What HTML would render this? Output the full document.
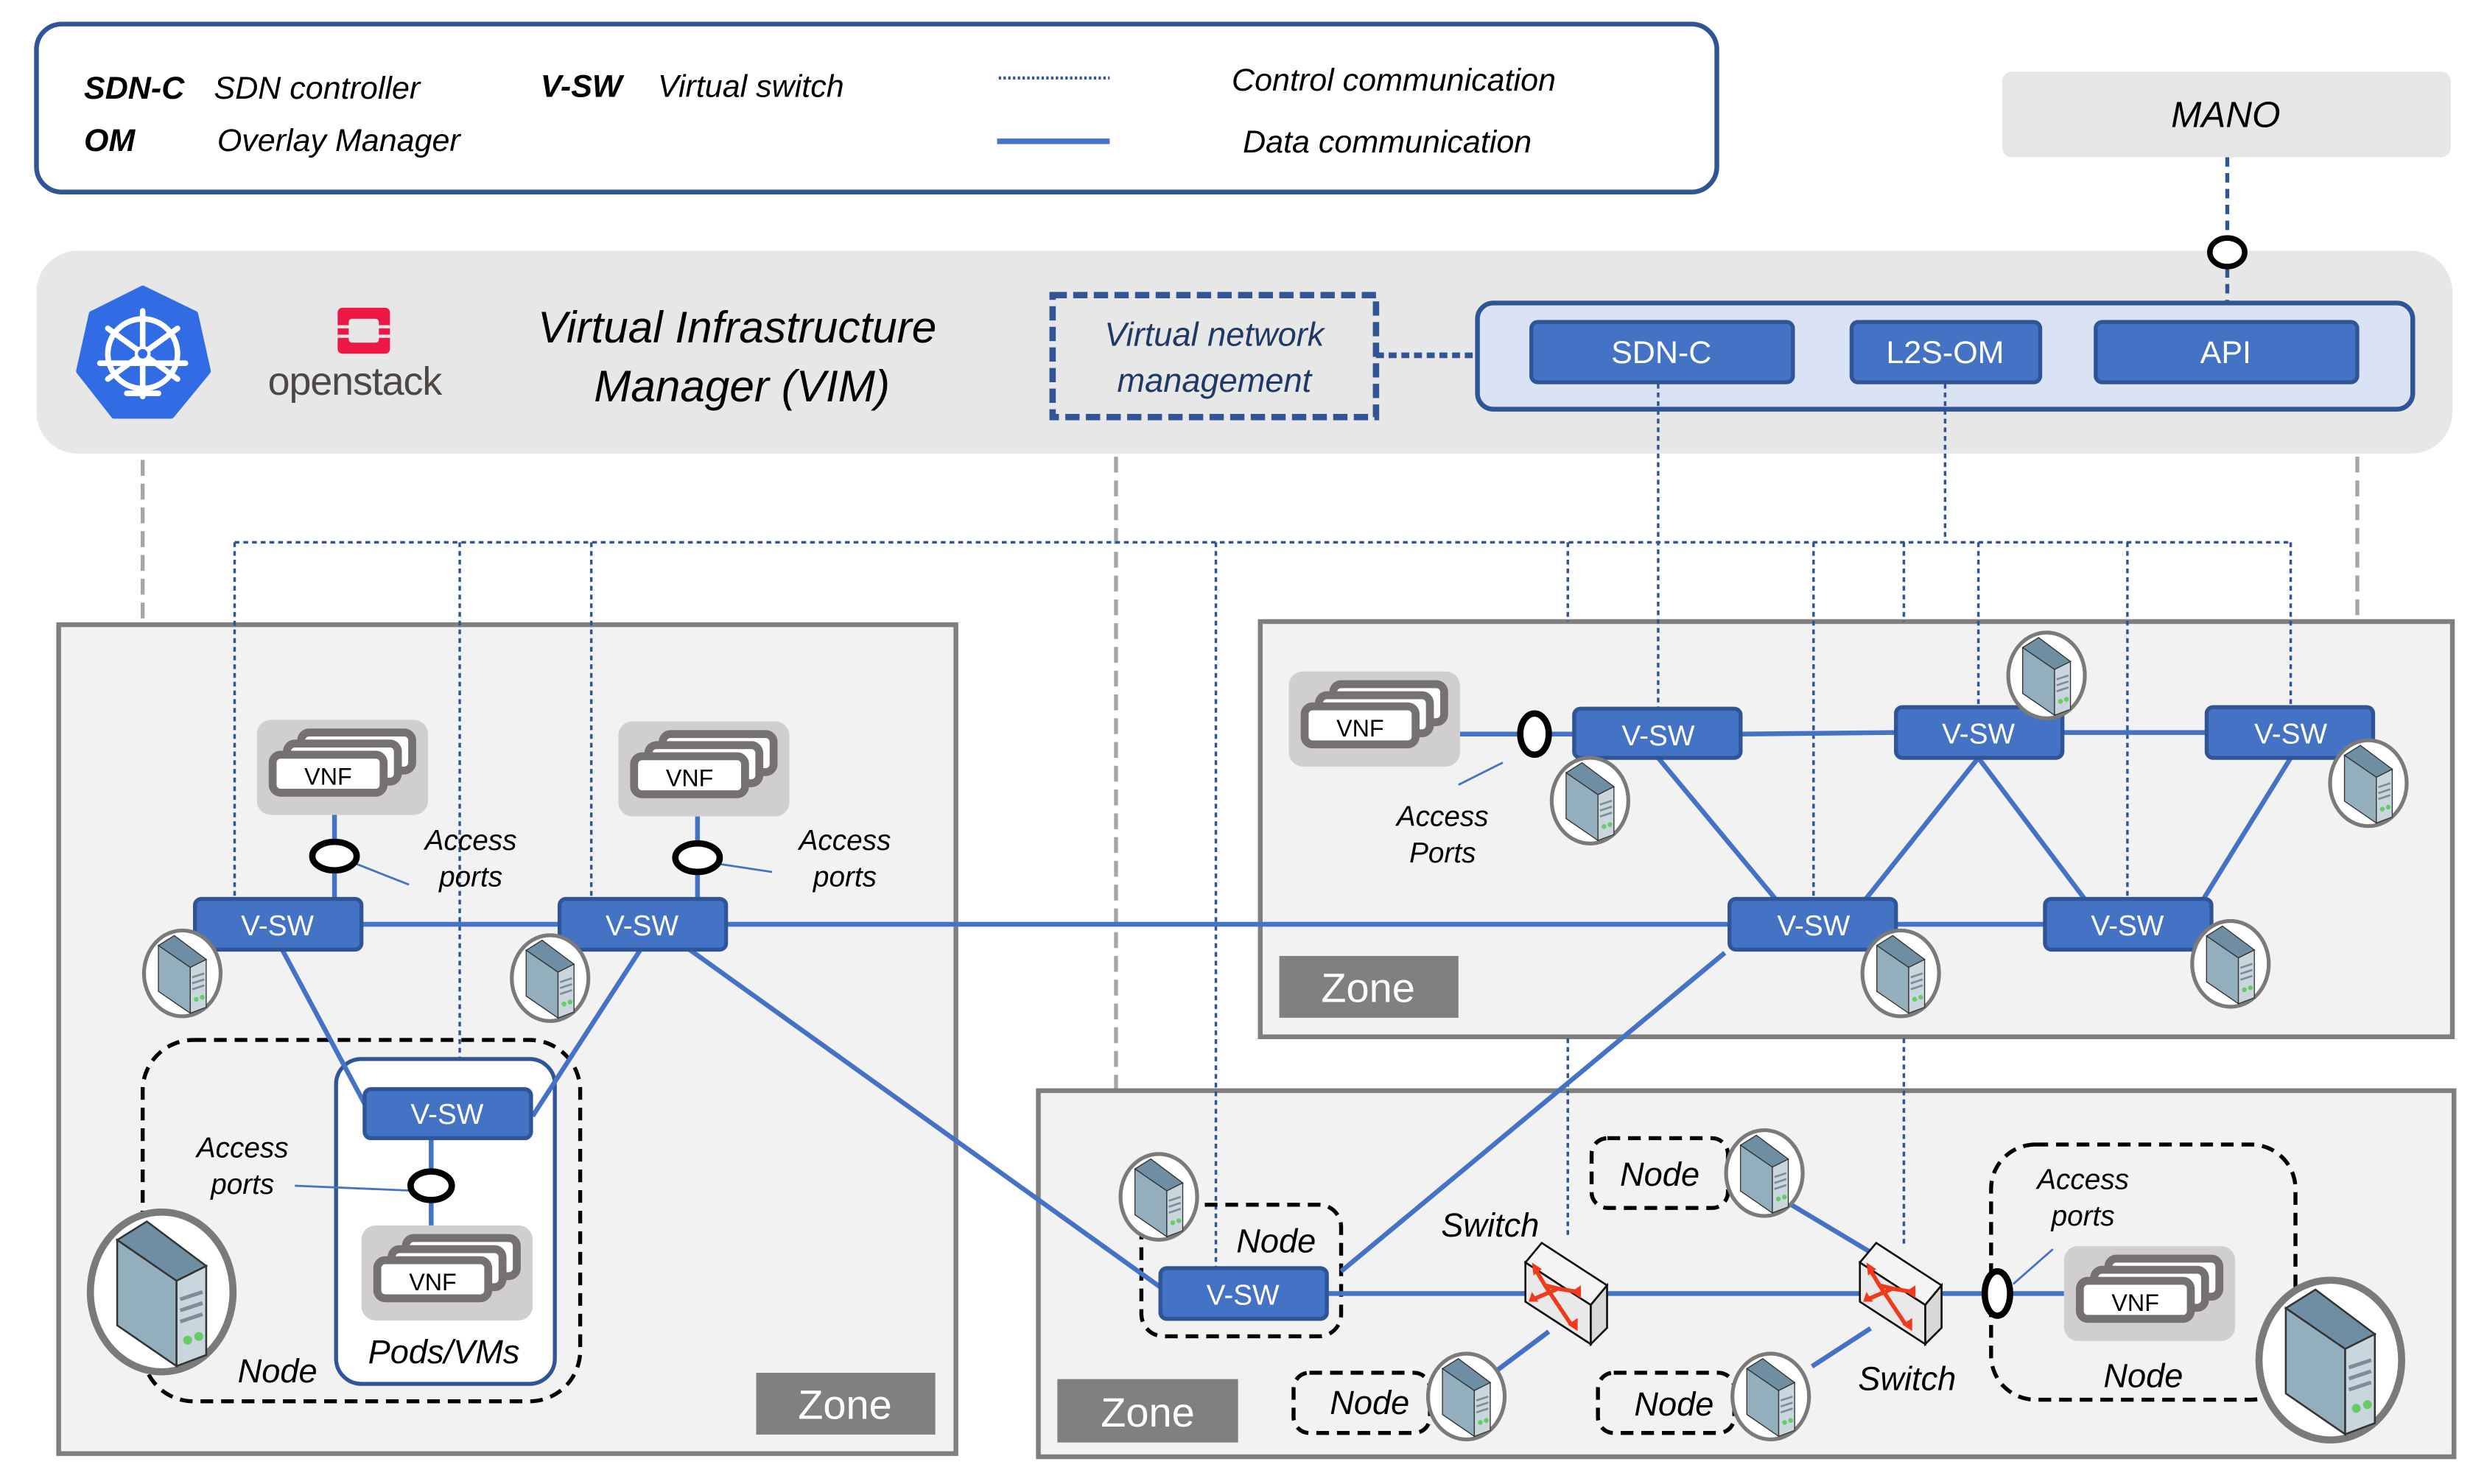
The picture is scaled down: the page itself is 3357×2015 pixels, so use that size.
<!DOCTYPE html>
<html><head><meta charset="utf-8"><style>
html,body{margin:0;padding:0;background:#fff;}
svg{display:block;}
text{font-family:"Liberation Sans",sans-serif;}
.it{font-style:italic;}
</style></head><body>
<svg width="3357" height="2015" viewBox="0 0 1560 936" xmlns="http://www.w3.org/2000/svg">
<defs>
<symbol id="srv" viewBox="-30 -30 60 60">
<ellipse cx="0" cy="0" rx="25" ry="28" fill="#fff" stroke="#7a7a7a" stroke-width="2.5"/>
<g transform="scale(1.3)">
<polygon points="-12,-14 -4,-19 12,-7 4,-3" fill="#6e8fa3" stroke="#333" stroke-width="0.5"/>
<polygon points="-12,-14 4,-3 4,20 -12,9" fill="#93aebd" stroke="#333" stroke-width="0.5"/>
<polygon points="4,-3 12,-7 12,17 4,20" fill="#c9d6de" stroke="#333" stroke-width="0.5"/>
<line x1="5" y1="2" x2="11" y2="0" stroke="#7a8d99" stroke-width="1"/>
<line x1="5" y1="5" x2="11" y2="3" stroke="#7a8d99" stroke-width="1"/>
<line x1="5" y1="8" x2="11" y2="6" stroke="#7a8d99" stroke-width="1"/>
<circle cx="7" cy="13" r="1.2" fill="#6c6"/>
<circle cx="10" cy="12" r="1.2" fill="#6c6"/>
</g>
</symbol>
<symbol id="vnf" viewBox="0 0 108 60">
<rect x="0" y="0" width="108" height="60" rx="9" fill="#d0cece"/>
<rect x="28" y="8" width="70" height="24" rx="5" fill="#fff" stroke="#767171" stroke-width="5"/>
<rect x="19" y="15" width="70" height="24" rx="5" fill="#fff" stroke="#767171" stroke-width="5"/>
<rect x="10" y="22" width="70" height="24" rx="5" fill="#fff" stroke="#767171" stroke-width="5"/>
<text x="45" y="41" font-size="15" text-anchor="middle" fill="#000">VNF</text>
</symbol>
<symbol id="sw" viewBox="0 0 54 66">
<polygon points="2,14 12,2 52,28 42,40" fill="#f4f4f4" stroke="#111" stroke-width="1.2"/>
<polygon points="42,40 52,28 52,54 42,64" fill="#d8d8d8" stroke="#111" stroke-width="1.2"/>
<polygon points="2,14 42,40 42,64 2,38" fill="#e9e9e9" stroke="#111" stroke-width="1.2"/>
<g stroke="#f03a1c" stroke-width="2.5" fill="none">
<path d="M8,18 L14,28 L30,52"/><path d="M8,36 L22,30 L34,32"/><path d="M14,28 L22,30"/>
</g>
<g fill="#f03a1c"><polygon points="6,14 12,18 7,22"/><polygon points="34,48 34,56 28,52"/><polygon points="36,28 36,36 30,32"/><polygon points="6,32 10,38 4,38"/></g>
</symbol>
</defs>

<rect x="23" y="15" width="1060" height="106" rx="16" fill="#fff" stroke="#2f5597" stroke-width="3"/>
<text x="53" y="62" font-size="20" font-weight="bold" class="it">SDN-C</text>
<text x="135" y="62" font-size="20" class="it">SDN controller</text>
<text x="341" y="61" font-size="20" font-weight="bold" class="it">V-SW</text>
<text x="415" y="61" font-size="20" class="it">Virtual switch</text>
<text x="53" y="95" font-size="20" font-weight="bold" class="it">OM</text>
<text x="137" y="95" font-size="20" class="it">Overlay Manager</text>
<line x1="630" y1="49" x2="700" y2="49" stroke="#2f5597" stroke-width="2" stroke-dasharray="1.5 1.5"/>
<line x1="629" y1="89" x2="700" y2="89" stroke="#4472c4" stroke-width="3.5"/>
<text x="777" y="57" font-size="20" class="it">Control communication</text>
<text x="784" y="96" font-size="20" class="it">Data communication</text>

<rect x="1263" y="45" width="283" height="54" rx="6" fill="#e6e6e6"/>
<text x="1404" y="80" font-size="23" class="it" text-anchor="middle">MANO</text>

<rect x="23" y="158" width="1524" height="128" rx="26" fill="#e7e7e7"/>
<line x1="1405" y1="99" x2="1405" y2="192" stroke="#2f5597" stroke-width="2.5" stroke-dasharray="6 4"/>
<ellipse cx="1405" cy="159" rx="11" ry="9" fill="#fff" stroke="#000" stroke-width="3.5"/>
<polygon points="90,182 123,198 131,234 108,262 72,262 50,234 58,198" fill="#326ce5" stroke="#326ce5" stroke-width="4" stroke-linejoin="round"/>
<g stroke="#fff" fill="none" stroke-width="3.5" stroke-linecap="round">
<circle cx="90" cy="223" r="22"/>
<line x1="90" y1="196" x2="90" y2="250"/>
<line x1="68" y1="207" x2="112" y2="239"/>
<line x1="112" y1="207" x2="68" y2="239"/>
<line x1="63" y1="229" x2="117" y2="229"/>
<line x1="80" y1="248" x2="100" y2="248"/>
</g>
<circle cx="90" cy="223" r="4" fill="#326ce5" stroke="#fff" stroke-width="2"/>
<rect x="213" y="194" width="33" height="29" rx="3" fill="#ed1944"/>
<rect x="220" y="201" width="19" height="15" rx="2" fill="#e7e7e7"/>
<rect x="213" y="205" width="9" height="2" fill="#e7e7e7"/><rect x="237" y="205" width="9" height="2" fill="#e7e7e7"/>
<rect x="213" y="211" width="9" height="2" fill="#e7e7e7"/><rect x="237" y="211" width="9" height="2" fill="#e7e7e7"/>
<text x="169" y="249" font-size="25" fill="#4d4845" letter-spacing="-0.5">openstack</text>
<text x="465" y="216" font-size="28" class="it" text-anchor="middle">Virtual Infrastructure</text>
<text x="468" y="253" font-size="28" class="it" text-anchor="middle">Manager (VIM)</text>
<rect x="664" y="186" width="204" height="77" fill="none" stroke="#2f5597" stroke-width="4" stroke-dasharray="9 4"/>
<text x="766" y="218" font-size="21" class="it" fill="#1f3864" text-anchor="middle">Virtual network</text>
<text x="766" y="247" font-size="21" class="it" fill="#1f3864" text-anchor="middle">management</text>
<line x1="868" y1="224" x2="932" y2="224" stroke="#2f5597" stroke-width="3.5" stroke-dasharray="5 3"/>
<rect x="932" y="191" width="590" height="67" rx="10" fill="#dae3f3" stroke="#2f5597" stroke-width="3"/>
<g fill="#4472c4" stroke="#2f5597" stroke-width="2.5">
<rect x="966" y="203" width="165" height="38" rx="4"/>
<rect x="1168" y="203" width="119" height="38" rx="4"/>
<rect x="1322" y="203" width="165" height="38" rx="4"/>
</g>
<g fill="#fff" font-size="20" text-anchor="middle">
<text x="1048" y="229">SDN-C</text><text x="1227" y="229">L2S-OM</text><text x="1404" y="229">API</text>
</g>

<g stroke="#a6a6a6" stroke-width="2.5" stroke-dasharray="10 5">
<line x1="90" y1="290" x2="90" y2="393"/>
<line x1="704" y1="288" x2="704" y2="688"/>
<line x1="1487" y1="288" x2="1487" y2="391"/>
</g>

<rect x="37" y="394" width="566" height="523" fill="#f2f2f2" stroke="#7f7f7f" stroke-width="3"/>
<rect x="795" y="392" width="752" height="262" fill="#f2f2f2" stroke="#7f7f7f" stroke-width="3"/>
<rect x="655" y="688" width="893" height="231" fill="#f2f2f2" stroke="#7f7f7f" stroke-width="3"/>
<rect x="477" y="866" width="113" height="39" fill="#808080"/>
<text x="533" y="895" font-size="26" fill="#fff" text-anchor="middle">Zone</text>
<rect x="807" y="603" width="113" height="39" fill="#808080"/>
<text x="863" y="632" font-size="26" fill="#fff" text-anchor="middle">Zone</text>
<rect x="667" y="870" width="114" height="40" fill="#808080"/>
<text x="724" y="900" font-size="26" fill="#fff" text-anchor="middle">Zone</text>

<g stroke="#2f5597" stroke-width="1.6" stroke-dasharray="3 2.5" fill="none">
<line x1="148" y1="342" x2="1445" y2="342"/>
<line x1="148" y1="342" x2="148" y2="567"/>
<line x1="290" y1="342" x2="290" y2="687"/>
<line x1="373" y1="342" x2="373" y2="567"/>
<line x1="767" y1="342" x2="767" y2="800"/>
<line x1="989" y1="342" x2="989" y2="392"/>
<line x1="989" y1="655" x2="989" y2="780"/>
<line x1="1046" y1="242" x2="1046" y2="447"/>
<line x1="1144" y1="342" x2="1144" y2="567"/>
<line x1="1201" y1="342" x2="1201" y2="392"/>
<line x1="1201" y1="655" x2="1201" y2="786"/>
<line x1="1227" y1="242" x2="1227" y2="342"/>
<line x1="1248" y1="342" x2="1248" y2="446"/>
<line x1="1342" y1="342" x2="1342" y2="567"/>
<line x1="1445" y1="342" x2="1445" y2="446"/>
</g>

<g fill="none" stroke="#000" stroke-width="2.5" stroke-dasharray="8 5">
<rect x="90" y="656" width="276" height="228" rx="32"/>
<rect x="720" y="760" width="126" height="83" rx="14"/>
<rect x="1004" y="718" width="86" height="44" rx="10"/>
<rect x="816" y="866" width="86" height="38" rx="10"/>
<rect x="1008" y="866" width="86" height="38" rx="10"/>
<rect x="1256" y="722" width="192" height="161" rx="28"/>
</g>
<rect x="212" y="668" width="138" height="205" rx="16" fill="#fff" stroke="#2f5597" stroke-width="2.5"/>

<g stroke="#4472c4" stroke-width="3" fill="none">
<line x1="211" y1="514" x2="211" y2="567"/>
<line x1="440" y1="515" x2="440" y2="567"/>
<line x1="228" y1="583" x2="353" y2="583"/>
<line x1="458" y1="583" x2="1091" y2="583"/>
<line x1="178" y1="599" x2="232" y2="700"/>
<line x1="404" y1="599" x2="336" y2="704"/>
<line x1="272" y1="718" x2="272" y2="773"/>
<line x1="435" y1="599" x2="732" y2="812"/>
<line x1="921" y1="463" x2="993" y2="463"/>
<line x1="1098" y1="463" x2="1196" y2="462"/>
<line x1="1301" y1="462" x2="1392" y2="462"/>
<line x1="1046" y1="478" x2="1120" y2="567"/>
<line x1="1248" y1="478" x2="1177" y2="567"/>
<line x1="1248" y1="478" x2="1315" y2="567"/>
<line x1="1445" y1="478" x2="1390" y2="567"/>
<line x1="1196" y1="583" x2="1290" y2="583"/>
<line x1="1088" y1="601" x2="846" y2="802"/>
<line x1="837" y1="816" x2="1302" y2="816"/>
<line x1="1130" y1="760" x2="1180" y2="790"/>
<line x1="945" y1="864" x2="977" y2="840"/>
<line x1="1143" y1="862" x2="1180" y2="838"/>
</g>
<g stroke="#4472c4" stroke-width="1.3">
<line x1="225" y1="545" x2="258" y2="558"/>
<line x1="454" y1="545" x2="487" y2="550"/>
<line x1="186" y1="748" x2="258" y2="751"/>
<line x1="948" y1="481" x2="920" y2="495"/>
<line x1="1295" y1="788" x2="1270" y2="810"/>
</g>

<use href="#vnf" x="162" y="454" width="108" height="60"/>
<use href="#vnf" x="390" y="455" width="108" height="60"/>
<use href="#vnf" x="228" y="773" width="108" height="60"/>
<use href="#vnf" x="813" y="420" width="108" height="67"/>
<use href="#vnf" x="1302" y="786" width="108" height="60"/>

<g fill="#fff" stroke="#000" stroke-width="4">
<ellipse cx="211" cy="540" rx="14" ry="9"/>
<ellipse cx="440" cy="541" rx="14" ry="9"/>
<ellipse cx="272" cy="748" rx="13" ry="9"/>
<ellipse cx="968" cy="463" rx="9" ry="13"/>
<ellipse cx="1260" cy="816" rx="8" ry="14"/>
</g>

<g fill="#4472c4" stroke="#2f5597" stroke-width="2.5">
<rect x="123" y="567" width="105" height="32" rx="4"/>
<rect x="353" y="567" width="105" height="32" rx="4"/>
<rect x="230" y="687" width="105" height="31" rx="4"/>
<rect x="993" y="447" width="105" height="31" rx="4"/>
<rect x="1196" y="446" width="105" height="32" rx="4"/>
<rect x="1392" y="446" width="105" height="32" rx="4"/>
<rect x="1091" y="567" width="105" height="32" rx="4"/>
<rect x="1290" y="567" width="105" height="32" rx="4"/>
<rect x="732" y="800" width="105" height="32" rx="4"/>
</g>
<g fill="#fff" font-size="18" text-anchor="middle">
<text x="175" y="590">V-SW</text><text x="405" y="590">V-SW</text><text x="282" y="709">V-SW</text>
<text x="1046" y="470">V-SW</text><text x="1248" y="469">V-SW</text><text x="1445" y="469">V-SW</text>
<text x="1144" y="590">V-SW</text><text x="1342" y="590">V-SW</text><text x="784" y="823">V-SW</text>
</g>

<use href="#sw" x="960" y="782" width="56" height="68"/>
<use href="#sw" x="1171" y="782" width="56" height="68"/>

<use href="#srv" x="86" y="584" width="58" height="60"/>
<use href="#srv" x="318" y="587" width="58" height="60"/>
<use href="#srv" x="48" y="761" width="108" height="108"/>
<use href="#srv" x="974" y="475" width="58" height="60"/>
<use href="#srv" x="1262" y="396" width="58" height="60"/>
<use href="#srv" x="1465" y="464" width="58" height="60"/>
<use href="#srv" x="1170" y="584" width="58" height="60"/>
<use href="#srv" x="1378" y="578" width="58" height="60"/>
<use href="#srv" x="702" y="725" width="58" height="60"/>
<use href="#srv" x="1084" y="710" width="58" height="60"/>
<use href="#srv" x="896" y="850" width="58" height="62"/>
<use href="#srv" x="1088" y="850" width="58" height="62"/>
<use href="#srv" x="1416" y="804" width="108" height="108"/>

<g font-size="18" class="it" text-anchor="middle">
<text x="297" y="536">Access</text><text x="297" y="559">ports</text>
<text x="533" y="536">Access</text><text x="533" y="559">ports</text>
<text x="153" y="730">Access</text><text x="153" y="753">ports</text>
<text x="910" y="521">Access</text><text x="910" y="544">Ports</text>
<text x="1314" y="750">Access</text><text x="1314" y="773">ports</text>
</g>
<g font-size="21" class="it" text-anchor="middle">
<text x="175" y="872">Node</text>
<text x="280" y="860">Pods/VMs</text>
<text x="805" y="790">Node</text>
<text x="1047" y="748">Node</text>
<text x="864" y="892">Node</text>
<text x="1056" y="893">Node</text>
<text x="1352" y="875">Node</text>
<text x="940" y="780">Switch</text>
<text x="1203" y="877">Switch</text>
</g>
</svg>
</body></html>
